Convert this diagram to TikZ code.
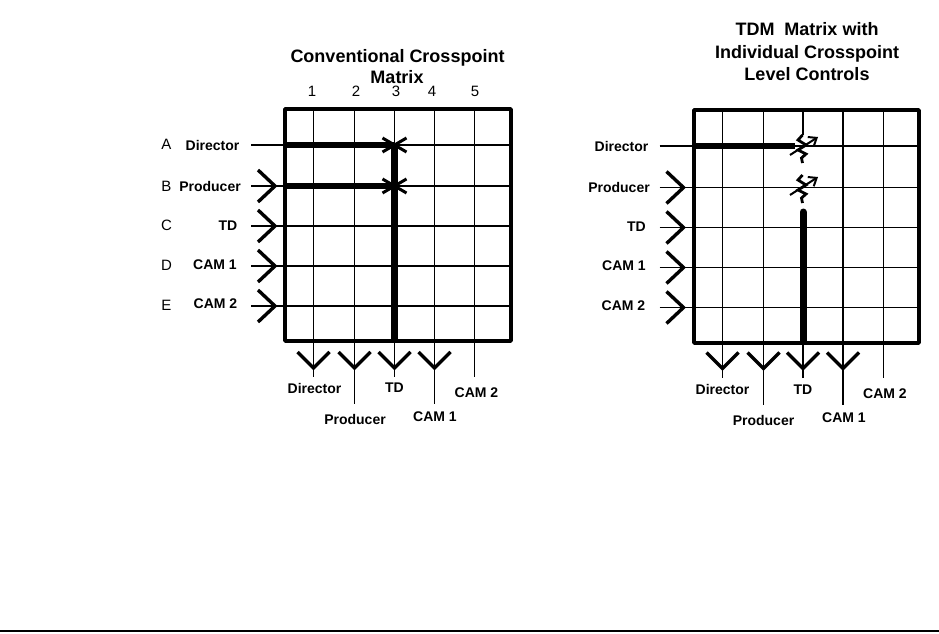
\documentclass[tikz,border=0pt]{standalone}
\usepackage{fontspec}
\setmainfont{Liberation Sans}
\usetikzlibrary{arrows.meta,calc}
\tikzset{
  framebox/.style={line width=3.6pt, line join=round},
  gridline/.style={line width=1.9pt},
  busline/.style={line width=5.6pt},
  outbus/.style={line width=7pt},
  chevron/.style={line width=3.4pt, line join=miter},
  crossmark/.style={line width=3pt},
  resistor/.style={line width=2.8pt, line join=miter},
  slider/.style={line width=2pt, -{Straight Barb[length=7pt,width=11pt,line width=2pt]}},
  titletext/.style={font=\fontsize{18}{20}\selectfont\bfseries, inner sep=0pt, anchor=base},
  nametext/.style={font=\fontsize{14}{15}\selectfont\bfseries, inner sep=0pt},
  lettertext/.style={font=\fontsize{15}{16}\selectfont, inner sep=0pt}
}
\begin{document}
\begin{tikzpicture}[x=1pt, y=-1pt]
  \useasboundingbox (0,0) rectangle (939,634);
  % left matrix
  \foreach \name/\ypos in {a/145,b/186,c/226,d/266,e/306} {
    \coordinate (lin\name) at (251,\ypos);
    \coordinate (lend\name) at (511,\ypos);
    \draw[gridline] (lin\name) -- (lend\name);
  }
  \foreach \name/\xpos/\yend in {one/313.5/377,two/354.5/404,three/394.5/377,four/434.5/404,five/474.5/377} {
    \coordinate (ltop\name) at (\xpos,109);
    \coordinate (lbot\name) at (\xpos,\yend);
    \draw[gridline] (ltop\name) -- (lbot\name);
  }
  \coordinate (lnw) at (285,109);
  \coordinate (lse) at (511,341);
  \draw[framebox] (lnw) rectangle (lse);
  \foreach \name in {b,c,d,e} {
    \coordinate (ltip) at ($(lin\name)+(24,0)$);
    \draw[chevron] ($(ltip)+(-17,-16)$) -- (ltip) -- ($(ltip)+(-17,16)$);
  }
  \foreach \name/\xpos in {one/313.5,two/354.5,three/394.5,four/434.5} {
    \coordinate (ltip) at (\xpos,368);
    \draw[chevron] ($(ltip)+(-16,-16)$) -- (ltip) -- ($(ltip)+(16,-16)$);
  }
  \coordinate (lxa) at (394.5,145);
  \coordinate (lxb) at (394.5,186);
  \coordinate (lxbot) at (394.5,341);
  \draw[busline] (lnw |- lxa) -- (lxa);
  \draw[busline] (lnw |- lxb) -- (lxb);
  \draw[outbus] (lxa) -- (lxbot);
  \foreach \name in {lxa,lxb} {
    \draw[crossmark] ($(\name)+(-12,-7)$) -- ($(\name)+(12,7)$);
    \draw[crossmark] ($(\name)+(-12,7)$) -- ($(\name)+(12,-7)$);
  }
  \node[titletext] (ltitlea) at (397.5,62.7) {Conventional Crosspoint};
  \node[titletext] (ltitleb) at (397,84) {Matrix};
  \foreach \name/\txt/\xpos in {one/1/312,two/2/356,three/3/396,four/4/432,five/5/475}
    \node[lettertext] (lnum\name) at (\xpos,91) {\txt};
  \foreach \name/\txt/\ypos in {a/A/144,b/B/186,c/C/225,d/D/265,e/E/305}
    \node[lettertext] (llet\name) at (166.5,\ypos) {\txt};
  \node[nametext] (lnamea) at (212.5,145) {Director};
  \node[nametext] (lnameb) at (210,186) {Producer};
  \node[nametext] (lnamec) at (228,226) {TD};
  \node[nametext] (lnamed) at (215,265) {CAM 1};
  \node[nametext] (lnamee) at (215.5,304) {CAM 2};
  \node[nametext] (lcola) at (314.5,388) {Director};
  \node[nametext] (lcolb) at (355,419) {Producer};
  \node[nametext] (lcolc) at (394.5,388) {TD};
  \node[nametext] (lcold) at (435,417) {CAM 1};
  \node[nametext] (lcole) at (476.5,393) {CAM 2};
  % right matrix
  \foreach \name/\ypos in {a/146,b/187.5,c/227.5,d/267.5,e/307.5} {
    \coordinate (rin\name) at (659.5,\ypos);
    \coordinate (rend\name) at (919,\ypos);
    \draw[gridline] (rin\name) -- (rend\name);
  }
  \foreach \name/\xpos/\yend in {one/722.5/378,two/763.5/405,four/843/405,five/883.5/378} {
    \coordinate (rtop\name) at (\xpos,110);
    \coordinate (rbot\name) at (\xpos,\yend);
    \draw[gridline] (rtop\name) -- (rbot\name);
  }
  \coordinate (rtopthree) at (803,110);
  \coordinate (rbotthree) at (803,378);
  \coordinate (rresa) at (803,135);
  \draw[gridline] (rtopthree) -- (rresa);
  \draw[gridline] (rbotthree) -- (803,340);
  \coordinate (rnw) at (694,110);
  \coordinate (rse) at (919,343);
  \draw[framebox] (rnw) rectangle (rse);
  \foreach \name in {b,c,d,e} {
    \coordinate (rtip) at ($(rin\name)+(24,0)$);
    \draw[chevron] ($(rtip)+(-17,-16)$) -- (rtip) -- ($(rtip)+(-17,16)$);
  }
  \foreach \xpos in {722.5,763.5,803,843} {
    \coordinate (rtip) at (\xpos,368.5);
    \draw[chevron] ($(rtip)+(-16,-16)$) -- (rtip) -- ($(rtip)+(16,-16)$);
  }
  \draw[busline] (rnw |- rina) -- (795,146);
  \draw[outbus, line cap=round] (803,212) -- (803,340);
  \draw[outbus] (803,336) -- (803,343);
  \foreach \yoff in {0,40} {
    \draw[resistor] (802.5,135+\yoff) -- (798,140+\yoff) -- (806,145+\yoff) -- (798,150+\yoff) -- (806,154+\yoff) -- (801.5,158+\yoff) -- (802.5,163+\yoff);
    \draw[slider] (790,155+\yoff) -- (818,137+\yoff);
  }
  \node[titletext] (rtitlea) at (807,36) {TDM\ \ Matrix with};
  \node[titletext] (rtitleb) at (807,58.5) {Individual Crosspoint};
  \node[titletext] (rtitlec) at (807,80.7) {Level Controls};
  \node[nametext] (rnamea) at (621.5,146) {Director};
  \node[nametext] (rnameb) at (619,187) {Producer};
  \node[nametext] (rnamec) at (636.5,227) {TD};
  \node[nametext] (rnamed) at (624,266) {CAM 1};
  \node[nametext] (rnamee) at (623.5,306) {CAM 2};
  \node[nametext] (rcola) at (722.5,389) {Director};
  \node[nametext] (rcolb) at (763.5,420) {Producer};
  \node[nametext] (rcolc) at (803,390) {TD};
  \node[nametext] (rcold) at (844,418) {CAM 1};
  \node[nametext] (rcole) at (885,394) {CAM 2};
  % page rule
  \coordinate (rulel) at (0,631);
  \coordinate (ruler) at (939,631);
  \draw[line width=1.5pt] (rulel) -- (ruler);
\end{tikzpicture}
\end{document}
